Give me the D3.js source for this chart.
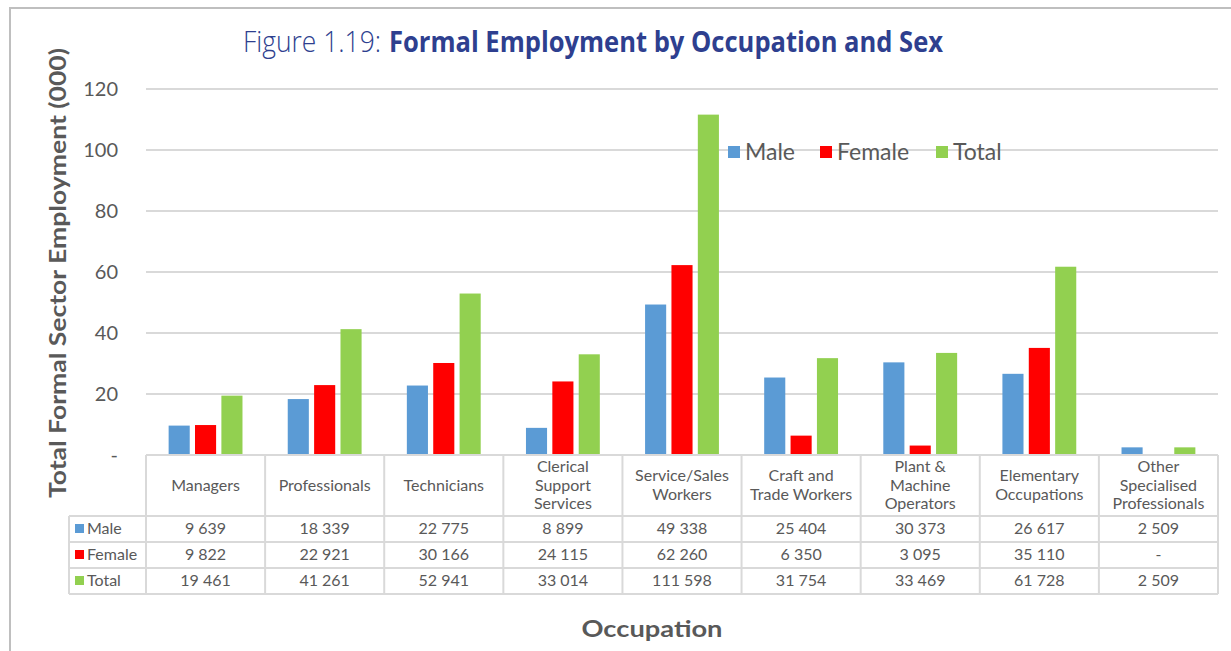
<!DOCTYPE html>
<html>
<head>
<meta charset="utf-8">
<script src="https://cdn.jsdelivr.net/npm/d3@7"></script>
<style>
  body { margin: 0; background: #fff; }
  text { font-family: "Century Gothic", "Lato", "Liberation Sans", sans-serif; fill: #595959; }
</style>
</head>
<body>
<div id="chart"></div>
<script>
var categories = [["Managers"], ["Professionals"], ["Technicians"], ["Clerical", "Support", "Services"],
                  ["Service/Sales", "Workers"], ["Craft  and", "Trade Workers"], ["Plant &", "Machine", "Operators"],
                  ["Elementary", "Occupations"], ["Other", "Specialised", "Professionals"]];
var series = ["Male", "Female", "Total"];
var colors = ["#5B9BD5", "#FF0000", "#92D050"];

// thousands
var male   = [9.639, 18.339, 22.775, 8.899, 49.338, 25.404, 30.373, 26.617, 2.509];
var female = [9.822, 22.921, 30.166, 24.115, 62.260, 6.350, 3.095, 35.110, 0];
var total  = [19.461, 41.261, 52.941, 33.014, 111.598, 31.754, 33.469, 61.728, 2.509];

var maleLabels   = ["9 639", "18 339", "22 775", "8 899", "49 338", "25 404", "30 373", "26 617", "2 509"];
var femaleLabels = ["9 822", "22 921", "30 166", "24 115", "62 260", "6 350", "3 095", "35 110", "-"];
var totalLabels  = ["19 461", "41 261", "52 941", "33 014", "111 598", "31 754", "33 469", "61 728", "2 509"];

var yTicks = [0, 20, 40, 60, 80, 100, 120];

var values = [male, female, total];
var rowLabels = [maleLabels, femaleLabels, totalLabels];

var width = 1231, height = 651;
var plot = {left: 146, right: 1218, top: 89, bottom: 455};

var svg = d3.select("#chart").append("svg")
    .attr("width", width)
    .attr("height", height);

// outer frame
svg.append("path")
    .attr("d", "M10," + height + "V8H" + width)
    .attr("fill", "none")
    .attr("stroke", "#bfbfbf")
    .attr("stroke-width", 2);

var x = d3.scaleBand().domain(d3.range(categories.length)).range([plot.left, plot.right]);
var xs = d3.scaleBand().domain(series)
    .range([x.bandwidth() * 0.19, x.bandwidth() * 0.81])
    .paddingInner(0.2);
var y = d3.scaleLinear().domain([0, 120]).range([plot.bottom, plot.top]);

// grid
svg.append("g")
    .selectAll("line")
    .data(yTicks.filter(function(d) { return d > 0; }))
    .enter().append("line")
    .attr("x1", plot.left)
    .attr("x2", plot.right)
    .attr("y1", function(d) { return y(d); })
    .attr("y2", function(d) { return y(d); })
    .attr("stroke", "#d9d9d9")
    .attr("stroke-width", 2);

var yAxis = d3.axisLeft(y).tickValues(yTicks).tickSize(0).tickPadding(28)
    .tickFormat(function(d) { return d === 0 ? "-" : d; });
var ya = svg.append("g")
    .attr("transform", "translate(" + plot.left + ",0)")
    .call(yAxis);
ya.select(".domain").remove();
ya.selectAll("text")
    .style("font-size", "20px")
    .style("font-family", "\"Century Gothic\", \"Lato\", \"Liberation Sans\", sans-serif")
    .attr("fill", "#595959");

// bars
var groups = svg.append("g")
    .selectAll("g")
    .data(categories)
    .enter().append("g")
    .attr("transform", function(d, i) { return "translate(" + x(i) + ",0)"; });

groups.selectAll("rect")
    .data(function(d, i) { return series.map(function(s, j) { return {s: s, j: j, v: values[j][i]}; }); })
    .enter().append("rect")
    .filter(function(d) { return d.v > 0; })
    .attr("x", function(d) { return xs(d.s); })
    .attr("width", xs.bandwidth())
    .attr("y", function(d) { return y(d.v); })
    .attr("height", function(d) { return y(0) - y(d.v); })
    .attr("fill", function(d) { return colors[d.j]; });

// data table
var headerBottom = 516, rowH = 26, tableLeft = 69;
var table = svg.append("g");
var grid = "#d9d9d9";

function hline(y0, x0, x1) {
  table.append("line").attr("x1", x0).attr("x2", x1).attr("y1", y0).attr("y2", y0)
    .attr("stroke", grid).attr("stroke-width", 2);
}
function vline(x0, y0, y1) {
  table.append("line").attr("x1", x0).attr("x2", x0).attr("y1", y0).attr("y2", y1)
    .attr("stroke", grid).attr("stroke-width", 2);
}

hline(plot.bottom, plot.left, plot.right);
for (var r = 0; r <= 3; r++) hline(headerBottom + r * rowH, tableLeft, plot.right);
vline(tableLeft, headerBottom, headerBottom + 3 * rowH);
for (var c = 0; c <= categories.length; c++) {
  vline(plot.left + c * x.step(), plot.bottom, headerBottom + 3 * rowH);
}

// header labels
categories.forEach(function(lines, i) {
  var cx = x(i) + x.bandwidth() / 2;
  var lh = 18.5;
  var y0 = (plot.bottom + headerBottom) / 2 - (lines.length - 1) * lh / 2 + 5;
  var t = table.append("text")
      .attr("text-anchor", "middle")
      .style("font-size", "16px");
  lines.forEach(function(l, k) {
    t.append("tspan").attr("x", cx).attr("y", y0 + k * lh).text(l);
  });
});

// rows
series.forEach(function(s, j) {
  var yc = headerBottom + j * rowH + rowH / 2;
  table.append("rect")
      .attr("x", 75).attr("y", yc - 5).attr("width", 9).attr("height", 9)
      .attr("fill", colors[j]);
  table.append("text")
      .attr("x", 87).attr("y", yc + 5)
      .style("font-size", "16px")
      .text(s);
  rowLabels[j].forEach(function(v, i) {
    table.append("text")
        .attr("x", x(i) + x.bandwidth() / 2)
        .attr("y", yc + 5)
        .attr("text-anchor", "middle")
        .style("font-size", "16px")
        .text(v);
  });
});

// legend
var legendX = [728, 820, 936];
var legend = svg.append("g");
series.forEach(function(s, j) {
  legend.append("rect")
      .attr("x", legendX[j]).attr("y", 146).attr("width", 12).attr("height", 12)
      .attr("fill", colors[j]);
  legend.append("text")
      .attr("x", legendX[j] + 17).attr("y", 160)
      .style("font-size", "23px")
      .text(s);
});

// titles
svg.append("text")
    .attr("x", 243).attr("y", 52)
    .attr("textLength", 138).attr("lengthAdjust", "spacingAndGlyphs")
    .style("font-size", "29px")
    .style("font-family", "\"Open Sans\", \"Liberation Sans\", sans-serif")
    .style("font-weight", "300")
    .attr("fill", "#2E3F8F")
    .style("fill", "#2E3F8F")
    .text("Figure 1.19:");
svg.append("text")
    .attr("x", 389).attr("y", 52)
    .attr("textLength", 554).attr("lengthAdjust", "spacingAndGlyphs")
    .style("font-size", "29px")
    .style("font-family", "\"Open Sans\", \"Liberation Sans\", sans-serif")
    .style("font-weight", "bold")
    .style("fill", "#2E3F8F")
    .text("Formal Employment by Occupation and Sex");

svg.append("text")
    .attr("transform", "translate(66,273) rotate(-90)")
    .attr("text-anchor", "middle")
    .attr("textLength", 450).attr("lengthAdjust", "spacingAndGlyphs")
    .style("font-size", "23px")
    .style("font-weight", "bold")
    .text("Total Formal Sector Employment (000)");

svg.append("text")
    .attr("x", 652).attr("y", 637)
    .attr("text-anchor", "middle")
    .attr("textLength", 141).attr("lengthAdjust", "spacingAndGlyphs")
    .style("font-size", "23px")
    .style("font-weight", "bold")
    .text("Occupation");
</script>
</body>
</html>
